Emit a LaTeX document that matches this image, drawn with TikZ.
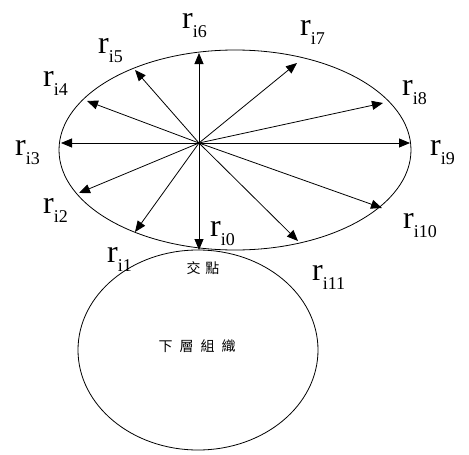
\documentclass[tikz,border=0pt]{standalone}
\usepackage{fontspec}
\setmainfont{Liberation Serif}
\newfontfamily\cjk{Noto Sans CJK TC}
\usetikzlibrary{arrows.meta,shapes.geometric}
\newcommand{\rlab}[1]{{\fontsize{32}{32}\selectfont r}\raisebox{-9pt}{\fontsize{18}{18}\selectfont i#1}}
\begin{document}
\begin{tikzpicture}[x=1pt,y=-1pt,>={Triangle[length=11pt,width=9pt]},
  ell/.style={draw,ellipse,line width=0.8pt,inner sep=0pt},
  lab/.style={anchor=base west,inner sep=0pt},
  cn/.style={font=\cjk\fontsize{14}{14}\selectfont}]
\useasboundingbox (0,0) rectangle (469,455);
\node[ell,minimum width=352pt,minimum height=200pt] (up) at (235,150){};
\node[ell,minimum width=240pt,minimum height=200pt] (low) at (198,350){};
\coordinate (o) at (199,143);
% tips on the upper ellipse
\coordinate (t0) at (199,250);\coordinate (t1) at (135,232);\coordinate (t2) at (79,193);\coordinate (t3) at (61,143);
\coordinate (t4) at (87,101);\coordinate (t5) at (135,70);\coordinate (t6) at (199,53);\coordinate (t7) at (297,63);
\coordinate (t8) at (383,103);\coordinate (t9) at (410,143);\coordinate (t10) at (382,208);\coordinate (t11) at (298,241);
\draw[->,line width=0.8pt] (o)--(t0);\draw[->,line width=0.8pt] (o)--(t1);\draw[->,line width=0.8pt] (o)--(t2);
\draw[->,line width=0.8pt] (o)--(t3);\draw[->,line width=0.8pt] (o)--(t4);\draw[->,line width=0.8pt] (o)--(t5);
\draw[->,line width=0.8pt] (o)--(t6);\draw[->,line width=0.8pt] (o)--(t7);\draw[->,line width=0.8pt] (o)--(t8);
\draw[->,line width=0.8pt] (o)--(t9);\draw[->,line width=0.8pt] (o)--(t10);\draw[->,line width=0.8pt] (o)--(t11);
% labels
\node[lab] (r0) at (210,236){\rlab{0}};\node[lab] (r1) at (107,262){\rlab{1}};\node[lab] (r2) at (43,213){\rlab{2}};
\node[lab] (r3) at (15,155){\rlab{3}};\node[lab] (r4) at (43,86){\rlab{4}};\node[lab] (r5) at (98,53){\rlab{5}};
\node[lab] (r6) at (182,28){\rlab{6}};\node[lab] (r7) at (300,35){\rlab{7}};\node[lab] (r8) at (402,95){\rlab{8}};
\node[lab] (r9) at (430,155){\rlab{9}};\node[lab] (r10) at (403,228){\rlab{10}};\node[lab] (r11) at (312,280){\rlab{11}};
\node[cn] (jd) at (203,268){交\hspace{5pt}點};
\node[cn] (zz) at (197,346){下\hspace{7pt}層\hspace{7pt}組\hspace{7pt}織};
\end{tikzpicture}
\end{document}
